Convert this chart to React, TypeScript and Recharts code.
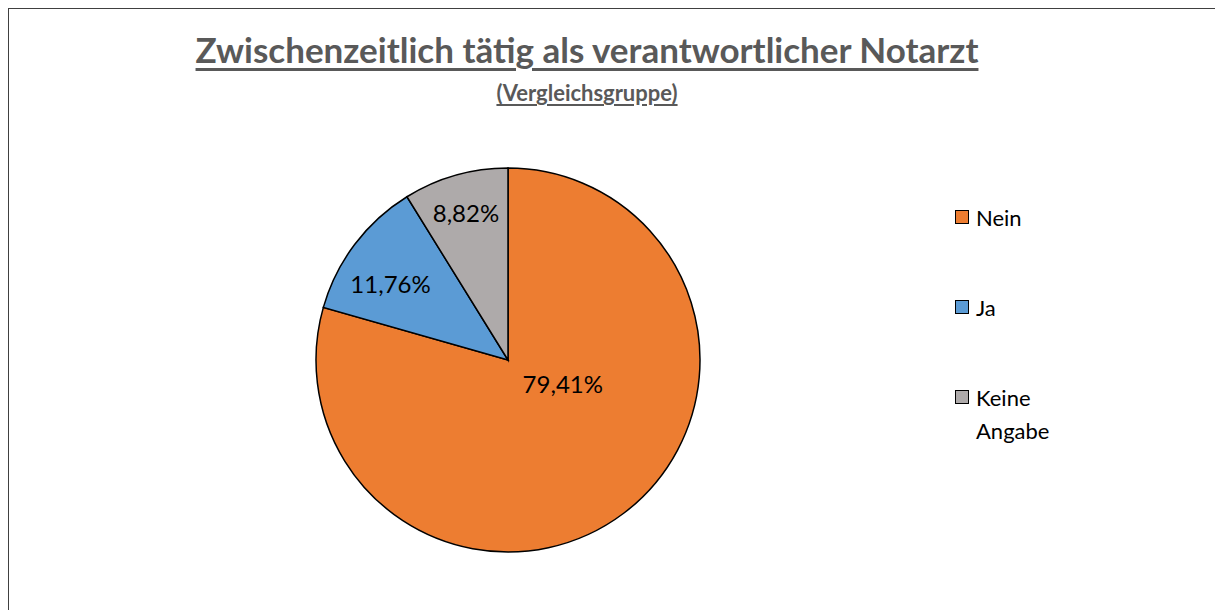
import { PieChart, Pie, Cell, Legend } from 'recharts'

const categories = ['Nein', 'Ja', 'Keine Angabe']
const shares = [79.41, 11.76, 8.82]
const colors = ['#ED7D31', '#5B9BD5', '#AEAAAA']

const data = categories.map((name, i) => ({ name, value: shares[i] }))

// label placement, roughly like Excel's "best fit"
const labelRadius = [0.31, 0.73, 0.8]
const labelTurn = [30, 4, 0]

const RAD = Math.PI / 180
const font = 'Lato, Calibri, sans-serif'

const renderLabel = (props: any) => {
  const { cx, cy, midAngle, outerRadius, index, value } = props
  const r = outerRadius * labelRadius[index]
  const a = (midAngle + labelTurn[index]) * RAD
  const x = cx + r * Math.cos(a)
  const y = cy - r * Math.sin(a)
  return (
    <text x={x} y={y} textAnchor="middle" dominantBaseline="central" fill="#000" fontSize={24} fontFamily={font}>
      {value.toFixed(2).replace('.', ',') + '%'}
    </text>
  )
}

// legend keeps the series order (Recharts would sort it by name)
const renderLegend = () => (
  <div style={{ fontFamily: font, fontSize: 22, color: '#000' }}>
    {categories.map((name, i) => (
      <div key={name} style={{ display: 'flex', alignItems: 'flex-start', height: 90 }}>
        <span
          style={{
            width: 14,
            height: 14,
            marginTop: 9,
            marginRight: 7,
            background: colors[i],
            border: '1.5px solid #000',
            boxSizing: 'border-box',
            flex: 'none',
          }}
        />
        <span style={{ width: 90, lineHeight: '33px' }}>{name}</span>
      </div>
    ))}
  </div>
)

export default function App() {
  return (
    <div
      style={{
        position: 'relative',
        width: 1209,
        height: 620,
        border: '1px solid #404040',
        boxSizing: 'border-box',
        background: '#fff',
      }}
    >
      <div
        style={{
          position: 'absolute',
          left: 0,
          width: 1156,
          top: 19,
          textAlign: 'center',
          fontFamily: font,
          fontWeight: 700,
          fontSize: 35,
          color: '#595959',
          textDecoration: 'underline',
          textUnderlineOffset: 5,
        }}
      >
        Zwischenzeitlich tätig als verantwortlicher Notarzt
      </div>
      <div
        style={{
          position: 'absolute',
          left: 0,
          width: 1156,
          top: 70,
          textAlign: 'center',
          fontFamily: font,
          fontWeight: 700,
          fontSize: 22,
          color: '#595959',
          textDecoration: 'underline',
          textUnderlineOffset: 3,
        }}
      >
        (Vergleichsgruppe)
      </div>
      <PieChart width={1207} height={618} margin={{ top: 0, right: 0, bottom: 0, left: 0 }} style={{ position: 'absolute', left: 0, top: 0 }}>
        <Pie
          data={data}
          dataKey="value"
          nameKey="name"
          cx={499}
          cy={351}
          outerRadius={192}
          startAngle={90}
          endAngle={-270}
          stroke="#000"
          strokeWidth={1.5}
          label={renderLabel}
          labelLine={false}
          isAnimationActive={false}
        >
          {data.map((d, i) => (
            <Cell key={d.name} fill={colors[i]} />
          ))}
        </Pie>
        <Legend
          layout="vertical"
          align="right"
          verticalAlign="top"
          content={renderLegend}
          wrapperStyle={{ left: 946, top: 192, width: 130 }}
        />
      </PieChart>
    </div>
  )
}
